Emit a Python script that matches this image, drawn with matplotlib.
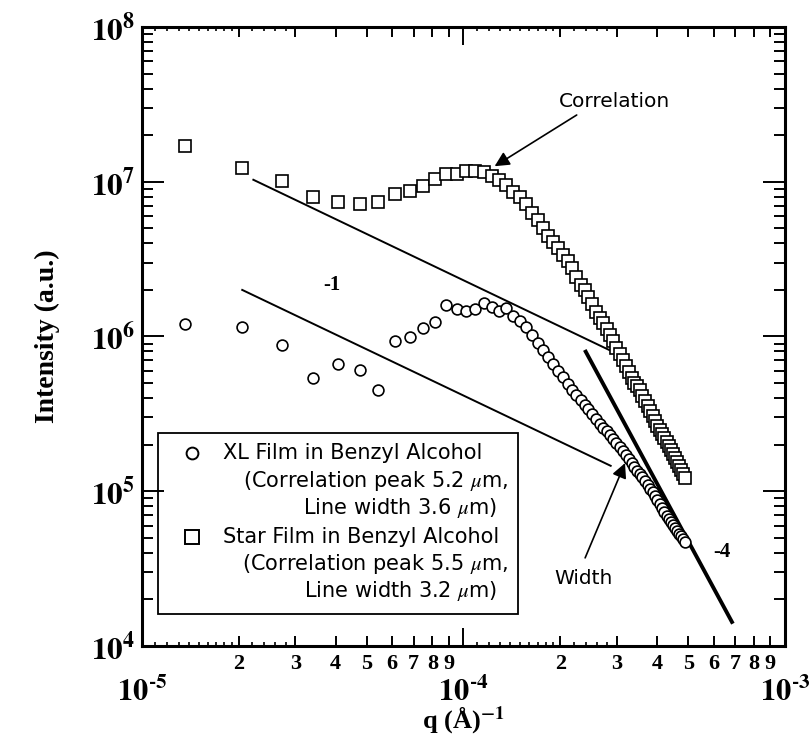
import matplotlib
matplotlib.use('Agg')
import matplotlib.pyplot as plt
from matplotlib.ticker import FixedLocator, FixedFormatter, NullFormatter
from matplotlib.patches import Rectangle
import numpy as np

plt.rcParams['mathtext.fontset'] = 'stix'

# q in units of 1e-5 A^-1 (same grid for both films)
q_e5 = [1.36, 2.04, 2.72, 3.40, 4.08, 4.76, 5.44, 6.12, 6.80, 7.48,
        8.16, 8.84, 9.52, 10.20, 10.88, 11.56, 12.24, 12.92, 13.60, 14.28,
        14.96, 15.64, 16.32, 17.00, 17.68, 18.36, 19.04, 19.72, 20.40, 21.08,
        21.76, 22.44, 23.12, 23.80, 24.48, 25.16, 25.84, 26.52, 27.20, 27.88,
        28.56, 29.24, 29.92, 30.60, 31.28, 31.96, 32.64, 33.32, 34.00, 34.68,
        35.36, 36.04, 36.72, 37.40, 38.08, 38.76, 39.44, 40.12, 40.80, 41.48,
        42.16, 42.84, 43.52, 44.20, 44.88, 45.56, 46.24, 46.92, 47.60, 48.28,
        48.96]

# Star film in benzyl alcohol (squares)
star_I = [1.71e7, 1.22e7, 1.01e7, 8.0e6, 7.36e6, 7.18e6, 7.43e6, 8.3e6, 8.75e6, 9.4e6,
          1.04e7, 1.12e7, 1.12e7, 1.17e7, 1.17e7, 1.16e7, 1.09e7, 1.03e7, 9.5e6, 8.6e6,
          7.97e6, 7.18e6, 6.28e6, 5.66e6, 5.02e6, 4.46e6, 4.08e6, 3.73e6, 3.36e6, 3.08e6,
          2.77e6, 2.42e6, 2.15e6, 2.0e6, 1.80e6, 1.62e6, 1.44e6, 1.32e6, 1.22e6, 1.12e6,
          1.02e6, 9.35e5, 8.43e5, 7.71e5, 7.05e5, 6.44e5, 5.89e5, 5.39e5, 5.01e5, 4.79e5,
          4.51e5, 4.12e5, 3.83e5, 3.56e5, 3.30e5, 3.06e5, 2.84e5, 2.64e5, 2.49e5, 2.34e5,
          2.21e5, 2.08e5, 1.96e5, 1.85e5, 1.74e5, 1.64e5, 1.55e5, 1.46e5, 1.37e5, 1.29e5,
          1.22e5]

# XL film in benzyl alcohol (circles)
xl_I = [1.20e6, 1.16e6, 8.81e5, 5.37e5, 6.64e5, 6.08e5, 4.51e5, 9.35e5, 9.88e5, 1.13e6,
        1.25e6, 1.60e6, 1.50e6, 1.46e6, 1.50e6, 1.65e6, 1.56e6, 1.46e6, 1.52e6, 1.36e6,
        1.26e6, 1.15e6, 1.02e6, 9.08e5, 8.18e5, 7.38e5, 6.64e5, 5.98e5, 5.47e5, 4.93e5,
        4.51e5, 4.19e5, 3.89e5, 3.61e5, 3.40e5, 3.16e5, 2.93e5, 2.72e5, 2.56e5, 2.45e5,
        2.31e5, 2.18e5, 2.05e5, 1.93e5, 1.82e5, 1.71e5, 1.61e5, 1.52e5, 1.44e5, 1.35e5,
        1.29e5, 1.24e5, 1.16e5, 1.10e5, 1.03e5, 9.88e4, 9.31e4, 8.77e4, 8.28e4, 7.80e4,
        7.35e4, 6.92e4, 6.62e4, 6.32e4, 6.05e4, 5.78e4, 5.52e4, 5.29e4, 5.14e4, 4.91e4,
        4.70e4]

# power-law guide lines (end points)
upper_q = [2.22e-5, 2.84e-4]
upper_I = [1.03e7, 8.18e5]
lower_q = [2.05e-5, 2.87e-4]
lower_I = [2.0e6, 1.46e5]
steep_q = [2.40e-4, 6.84e-4]
steep_I = [7.98e5, 1.43e4]

x_minor = [2e-5, 3e-5, 4e-5, 5e-5, 6e-5, 7e-5, 8e-5, 9e-5,
           2e-4, 3e-4, 4e-4, 5e-4, 6e-4, 7e-4, 8e-4, 9e-4]
x_minor_labels = ['2', '3', '4', '5', '6', '7', '8', '9'] * 2
x_tiny = [1.1e-5, 1.2e-5, 1.3e-5, 1.4e-5, 1.5e-5, 1.6e-5, 1.7e-5, 1.8e-5, 1.9e-5,
          2.2e-5, 2.4e-5, 2.6e-5, 2.8e-5,
          1.1e-4, 1.2e-4, 1.3e-4, 1.4e-4, 1.5e-4, 1.6e-4, 1.7e-4, 1.8e-4, 1.9e-4,
          2.2e-4, 2.4e-4, 2.6e-4, 2.8e-4]

legend_lines = ['XL Film in Benzyl Alcohol',
                '(Correlation peak 5.2 $\\mu$m,',
                'Line width 3.6 $\\mu$m)',
                'Star Film in Benzyl Alcohol',
                '(Correlation peak 5.5 $\\mu$m,',
                'Line width 3.2 $\\mu$m)']

q = np.array(q_e5) * 1e-5

fig = plt.figure(figsize=(8.1, 7.42), dpi=100)
ax = fig.add_axes([0.1753, 0.1294, 0.7938, 0.8342])
ax.set_xscale('log')
ax.set_yscale('log')
ax.set_xlim(1e-5, 1e-3)
ax.set_ylim(1e4, 1e8)

ax.plot(upper_q, upper_I, color='black', lw=1.4)
ax.plot(lower_q, lower_I, color='black', lw=1.4)
ax.plot(steep_q, steep_I, color='black', lw=2.8)

ax.plot(q, xl_I, 'o', mfc='white', mec='black', ms=7.8, mew=1.2)
ax.plot(q, star_I, 's', mfc='white', mec='black', ms=8.5, mew=1.2)

serif = 'Liberation Serif'
sans = 'DejaVu Sans'

ax.text(3.89e-5, 2.15e6, '-1', fontsize=15, fontweight='bold', family=serif,
        ha='center', va='center')
ax.text(6.35e-4, 4.07e4, '-4', fontsize=15, fontweight='bold', family=serif,
        ha='center', va='center')

arrow = dict(arrowstyle='-|>', color='black', lw=1.2, mutation_scale=22,
             shrinkA=0, shrinkB=0)
ax.annotate('', xy=(1.25e-4, 1.26e7), xytext=(2.25e-4, 2.70e7), arrowprops=arrow)
ax.text(2.94e-4, 3.28e7, 'Correlation', fontsize=14.5, family=sans,
        ha='center', va='center')
ax.annotate('', xy=(3.18e-4, 1.52e5), xytext=(2.39e-4, 3.71e4), arrowprops=arrow)
ax.text(2.37e-4, 2.75e4, 'Width', fontsize=14.5, family=sans,
        ha='center', va='center')

# legend box drawn by hand so the marker sits on the first line
ax.add_patch(Rectangle((0.0249, 0.0517), 0.5598, 0.2924, transform=ax.transAxes,
                       fill=False, lw=1.3, color='black'))
ax.plot([0.0778], [0.3118], 'o', transform=ax.transAxes, mfc='white', mec='black',
        ms=8.5, mew=1.4)
ax.plot([0.0778], [0.1761], 's', transform=ax.transAxes, mfc='white', mec='black',
        ms=9.5, mew=1.4)
leg_y = [0.3118, 0.2666, 0.2229, 0.1761, 0.1325, 0.0889]
leg_x = [0.126, 0.5692, 0.5521, 0.126, 0.5692, 0.5521]
leg_ha = ['left', 'right', 'right', 'left', 'right', 'right']
for txt, lx, ly, ha in zip(legend_lines, leg_x, leg_y, leg_ha):
    ax.text(lx, ly, txt, transform=ax.transAxes, fontsize=15, family=sans,
            ha=ha, va='center')

# ticks
ax.xaxis.set_major_locator(FixedLocator([1e-5, 1e-4, 1e-3]))
ax.xaxis.set_major_formatter(FixedFormatter(['$\\mathbf{10^{\u2010 5}}$', '$\\mathbf{10^{\u2010 4}}$',
                                             '$\\mathbf{10^{\u2010 3}}$']))
ax.xaxis.set_minor_locator(FixedLocator(x_minor))
ax.xaxis.set_minor_formatter(FixedFormatter(x_minor_labels))
ax.yaxis.set_major_locator(FixedLocator([1e4, 1e5, 1e6, 1e7, 1e8]))
ax.yaxis.set_major_formatter(FixedFormatter(['$\\mathbf{10^{4}}$', '$\\mathbf{10^{5}}$',
                                             '$\\mathbf{10^{6}}$', '$\\mathbf{10^{7}}$',
                                             '$\\mathbf{10^{8}}$']))
ax.yaxis.set_minor_locator(FixedLocator([m * 10.0 ** e for e in range(4, 8) for m in range(2, 10)]))
ax.yaxis.set_minor_formatter(NullFormatter())

ax.tick_params(which='both', direction='in', top=True, right=True, width=1.4, color='black')
ax.tick_params(axis='y', which='major', length=16, pad=5, labelsize=22.5)
ax.tick_params(axis='y', which='minor', length=8)
ax.tick_params(axis='x', which='major', length=13, pad=22, labelsize=22)
ax.tick_params(axis='x', which='minor', length=7, pad=6, labelsize=16)
for lab in ax.get_xticklabels(minor=True):
    lab.set_fontweight('bold')
    lab.set_family(serif)

trans = ax.get_xaxis_transform()
ax.vlines(x_tiny, 0, 0.006, transform=trans, color='black', lw=1.2)
ax.vlines(x_tiny, 0.994, 1, transform=trans, color='black', lw=1.2)

for sp in ax.spines.values():
    sp.set_linewidth(2.2)

ax.set_ylabel('Intensity (a.u.)', fontsize=20, fontweight='bold', family=serif, labelpad=22)
ax.set_xlabel('q (\u00c5)$^{\\mathbf{-1}}$', fontsize=19, fontweight='bold', family=serif,
              labelpad=-2)

fig.savefig('out.png', dpi=100)
